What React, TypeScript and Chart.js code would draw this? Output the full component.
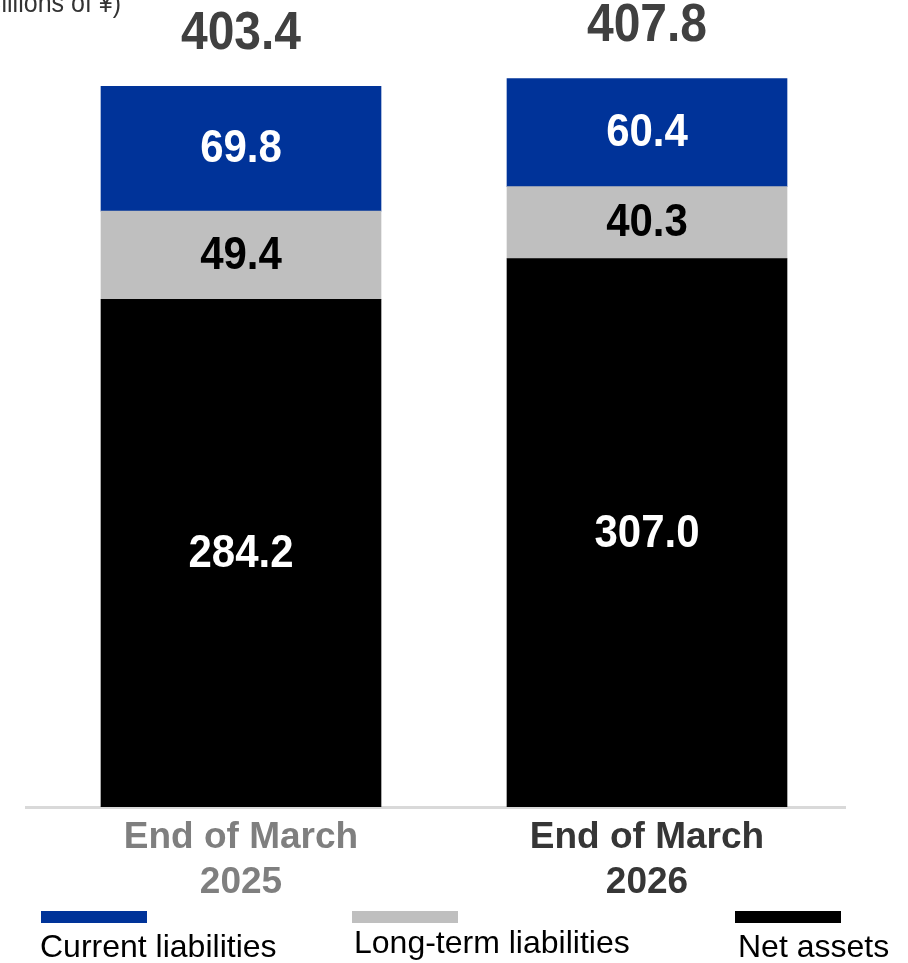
import React, { useEffect, useRef } from "react";
import { Chart, registerables } from "chart.js";

Chart.register(...registerables);

const categories: string[][] = [
  ["End of March", "2025"],
  ["End of March", "2026"],
];
const netAssets = [284.2, 307.0];
const longTermLiabilities = [49.4, 40.3];
const currentLiabilities = [69.8, 60.4];
const totals = [403.4, 407.8];
const seriesNames = ["Current liabilities", "Long-term liabilities", "Net assets"];
const unitLabel = "(Billions of ¥)";

const FONT = "'Liberation Sans', Arial, sans-serif";
const BLUE = "#003399";
const GRAY = "#bfbfbf";
const BLACK = "#000000";

function stretchedText(ctx: CanvasRenderingContext2D, text: string, x: number, y: number, sy: number) {
  ctx.save();
  ctx.translate(x, y);
  ctx.scale(1, sy);
  ctx.fillText(text, 0, 0);
  ctx.restore();
}

const overlayPlugin = {
  id: "overlay",
  beforeDatasetsDraw(chart: any) {
    const ctx = chart.ctx;
    const y = chart.chartArea.bottom;
    ctx.save();
    ctx.strokeStyle = "#d9d9d9";
    ctx.lineWidth = 3;
    ctx.beginPath();
    ctx.moveTo(25, y + 0.5);
    ctx.lineTo(846, y + 0.5);
    ctx.stroke();
    ctx.restore();
  },
  afterDatasetsDraw(chart: any) {
    const ctx = chart.ctx;
    ctx.save();
    ctx.textAlign = "center";
    ctx.textBaseline = "middle";
    // segment labels
    chart.data.datasets.forEach((ds: any, di: number) => {
      const meta = chart.getDatasetMeta(di);
      meta.data.forEach((el: any, i: number) => {
        const v = ds.data[i];
        const cy = (el.y + el.base) / 2;
        ctx.font = `bold 42px ${FONT}`;
        ctx.fillStyle = ds.labelColor;
        stretchedText(ctx, v.toFixed(1), el.x, cy + 1, 1.1);
      });
    });
    // totals
    const topMeta = chart.getDatasetMeta(chart.data.datasets.length - 1);
    topMeta.data.forEach((el: any, i: number) => {
      ctx.font = `bold 48px ${FONT}`;
      ctx.fillStyle = "#404040";
      stretchedText(ctx, totals[i].toFixed(1), el.x, el.y - 52, 1.1);
    });
    // unit label
    ctx.textAlign = "right";
    ctx.textBaseline = "alphabetic";
    ctx.font = `25px ${FONT}`;
    ctx.fillStyle = "#333333";
    stretchedText(ctx, unitLabel, 121, 12, 1.08);
    // legend
    const legendItems = [
      { name: seriesNames[0], color: BLUE, rx: 41, tx: 40, ty: 957 },
      { name: seriesNames[1], color: GRAY, rx: 352, tx: 354, ty: 953 },
      { name: seriesNames[2], color: BLACK, rx: 735, tx: 738, ty: 957 },
    ];
    ctx.textAlign = "left";
    ctx.font = `32px ${FONT}`;
    legendItems.forEach((it) => {
      ctx.fillStyle = it.color;
      ctx.fillRect(it.rx, 911, 106, 12);
      ctx.fillStyle = "#000000";
      ctx.fillText(it.name, it.tx, it.ty);
    });
    ctx.restore();
  },
};

export default function App() {
  const ref = useRef<HTMLCanvasElement>(null);
  useEffect(() => {
    if (!ref.current) return;
    const chart = new Chart(ref.current, {
      type: "bar",
      data: {
        labels: categories,
        datasets: [
          { label: seriesNames[2], data: netAssets, backgroundColor: BLACK, labelColor: "#ffffff" } as any,
          { label: seriesNames[1], data: longTermLiabilities, backgroundColor: GRAY, labelColor: "#000000" } as any,
          { label: seriesNames[0], data: currentLiabilities, backgroundColor: BLUE, labelColor: "#ffffff" } as any,
        ],
      },
      options: {
        responsive: false,
        animation: false,
        devicePixelRatio: 1,
        layout: { padding: { top: 21, left: 38, right: 58, bottom: 0 } },
        datasets: { bar: { barThickness: 280, borderWidth: 0 } },
        plugins: {
          legend: { display: false },
          tooltip: { enabled: false },
        },
        scales: {
          x: {
            stacked: true,
            grid: { display: false, drawTicks: false },
            border: { display: false },
            ticks: {
              padding: 8,
              font: { family: FONT, size: 37, weight: "bold", lineHeight: 45 / 37 },
              color: (c: any) => (c.index === 0 ? "#7f7f7f" : "#363636"),
              maxRotation: 0,
            },
            afterFit: (scale: any) => {
              scale.height = 156;
            },
          },
          y: {
            stacked: true,
            display: false,
            min: 0,
            max: 440,
          },
        },
      } as any,
      plugins: [overlayPlugin],
    });
    return () => chart.destroy();
  }, []);
  return (
    <div style={{ position: "absolute", left: 0, top: 0, width: 908, height: 963, background: "#fff" }}>
      <canvas ref={ref} width={908} height={963} style={{ display: "block" }} />
    </div>
  );
}
